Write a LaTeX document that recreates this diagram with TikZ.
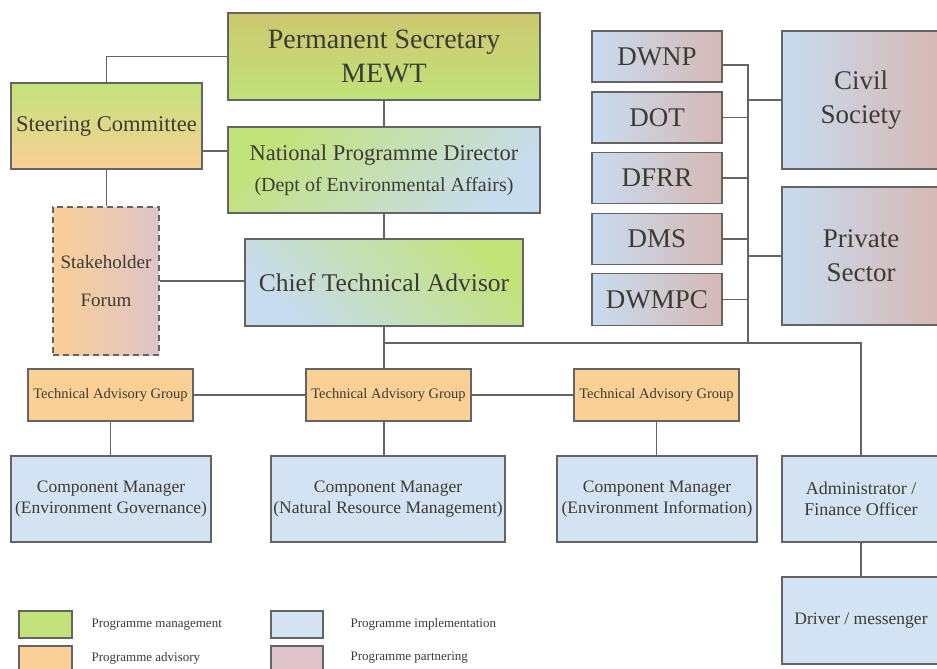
\documentclass[tikz,border=0pt]{standalone}
\usepackage{fontspec}
\setmainfont{Liberation Serif}
\usepackage{xcolor}
\definecolor{hline}{RGB}{100,100,100}
\definecolor{htext}{RGB}{60,60,50}
\definecolor{hgreen}{RGB}{194,226,122}
\definecolor{holive}{RGB}{204,200,112}
\definecolor{horange}{RGB}{250,208,150}
\definecolor{hblue}{RGB}{212,227,243}
\definecolor{hblue0}{RGB}{200,220,240}
\definecolor{hpink}{RGB}{214,184,180}
\definecolor{hpink0}{RGB}{222,196,200}
\usetikzlibrary{calc}
\tikzset{
  box/.style={draw=hline, line width=1.3pt, text=htext, align=center, inner sep=0pt},
  link/.style={draw=hline, line width=1.6pt},
  partner/.style={box, left color=hblue0, right color=hpink},
  impl/.style={box, fill=hblue},
  advis/.style={box, fill=horange},
}

\begin{document}
\begin{tikzpicture}[x=1pt,y=-1pt]
\clip (0,0) rectangle (937,669);
\fill[white] (0,0) rectangle (937,669);
\node[box, top color=holive, bottom color=hgreen, minimum width=312pt, minimum height=87pt,
  font=\fontsize{28}{34}\selectfont] (ps) at (384,56.5) {Permanent Secretary\\MEWT};
\node[box, top color=hgreen, bottom color=hblue0, shading angle=45, minimum width=312pt, minimum height=86pt,
  font=\fontsize{22.5}{31}\selectfont] (npd) at (384,170)
  {National Programme Director\\{\fontsize{20}{31}\selectfont (Dept of Environmental Affairs)}};
\node[box, top color=hgreen, bottom color=horange, minimum width=191pt, minimum height=86pt,
  font=\fontsize{22.5}{27}\selectfont] (sc) at (106.5,126) {Steering Committee};
\node[box, dashed, dash pattern=on 6pt off 4pt, left color=horange, right color=hpink0,
  minimum width=106pt, minimum height=148pt, font=\fontsize{19}{38}\selectfont] (sf) at (106,281) {Stakeholder\\Forum};
\node[box, top color=hgreen, bottom color=hblue0, shading angle=-45, minimum width=278pt, minimum height=87pt,
  font=\fontsize{25.5}{30}\selectfont] (cta) at (384,282.5) {Chief Technical Advisor};

\node[partner, minimum width=130pt, minimum height=51pt, font=\fontsize{27}{32}\selectfont] (dwnp) at (657,56.5) {DWNP};
\node[partner, minimum width=130pt, minimum height=51pt, font=\fontsize{27}{32}\selectfont] (dot) at (657,117.5) {DOT};
\node[partner, minimum width=130pt, minimum height=51pt, font=\fontsize{27}{32}\selectfont] (dfrr) at (657,178) {DFRR};
\node[partner, minimum width=130pt, minimum height=51pt, font=\fontsize{27}{32}\selectfont] (dms) at (657,239) {DMS};
\node[partner, minimum width=130pt, minimum height=52pt, font=\fontsize{27}{32}\selectfont] (dwmpc) at (657,299.5) {DWMPC};
\node[partner, minimum width=158pt, minimum height=138pt, font=\fontsize{27}{34}\selectfont] (cs) at (861,100) {Civil\\Society};
\node[partner, minimum width=158pt, minimum height=138pt, font=\fontsize{27}{34}\selectfont] (pvt) at (861,256) {Private\\Sector};

\node[advis, minimum width=165pt, minimum height=52pt, font=\fontsize{14.5}{17}\selectfont] (tag1) at (110.5,395) {Technical Advisory Group};
\node[advis, minimum width=165pt, minimum height=52pt, font=\fontsize{14.5}{17}\selectfont] (tag2) at (388.5,395) {Technical Advisory Group};
\node[advis, minimum width=165pt, minimum height=52pt, font=\fontsize{14.5}{17}\selectfont] (tag3) at (656.5,395) {Technical Advisory Group};

\node[impl, minimum width=200pt, minimum height=86pt, font=\fontsize{17.5}{21}\selectfont] (cm1) at (111,499) {Component Manager\\(Environment Governance)};
\node[impl, minimum width=234pt, minimum height=86pt, font=\fontsize{17.5}{21}\selectfont] (cm2) at (388,499) {Component Manager\\(Natural Resource Management)};
\node[impl, minimum width=200pt, minimum height=86pt, font=\fontsize{17.5}{21}\selectfont] (cm3) at (657,499) {Component Manager\\(Environment Information)};
\node[impl, minimum width=158pt, minimum height=86pt, font=\fontsize{18}{21}\selectfont] (adm) at (861,499) {Administrator /\\Finance Officer};
\node[impl, minimum width=158pt, minimum height=87pt, font=\fontsize{17.5}{21}\selectfont] (drv) at (861,620.5) {Driver / messenger};

\coordinate (hub) at (384,343);
\coordinate (pbus) at (748,343);

\draw[link] (sc.north) |- (ps.west);
\draw[link] (ps.south) -- (npd.north);
\draw[link] ([yshift=-25pt]sc.east) -- ([yshift=-25pt]sc.east -| npd.west);
\draw[link] (sc.south) -- (sc.south |- sf.north);
\draw[link] (sf.east) -- (sf.east -| cta.west);
\draw[link] (npd.south) -- (cta.north);
\draw[link] (cta.south) -- (hub);
\draw[link] (hub) -- (hub |- tag2.north);
\draw[link] (hub) -| (adm.north);
\draw[link] (pbus) |- ([yshift=-8.5pt]dwnp.east);
\draw[link] (dot.east) -- (dot.east -| pbus);
\draw[link] (dfrr.east) -- (dfrr.east -| pbus);
\draw[link] (dms.east) -- (dms.east -| pbus);
\draw[link] (dwmpc.east) -- (dwmpc.east -| pbus);
\draw[link] (pbus |- cs.west) -- (cs.west);
\draw[link] (pbus |- pvt.west) -- (pvt.west);
\draw[link] (tag1.east) -- (tag2.west);
\draw[link] (tag2.east) -- (tag3.west);
\draw[link] (tag1.south) -- (tag1.south |- cm1.north);
\draw[link] (hub |- tag2.south) -- (hub |- cm2.north);
\draw[link] (tag3.south) -- (tag3.south |- cm3.north);
\draw[link] (adm.south) -- (drv.north);

% legend
\node[box, fill=hgreen, minimum width=53pt, minimum height=27pt] (lg1) at (45.5,624.5) {};
\node[box, fill=horange, minimum width=53pt, minimum height=27pt] (lg2) at (45.5,659.5) {};
\node[box, fill=hblue, minimum width=52pt, minimum height=27pt] (lg3) at (297,624.5) {};
\node[box, fill=hpink0, minimum width=52pt, minimum height=27pt] (lg4) at (297,659.5) {};
\node[anchor=west, text=htext, font=\fontsize{13}{15}\selectfont] (lt1) at (88,624.5) {Programme management};
\node[anchor=west, text=htext, font=\fontsize{13}{15}\selectfont] (lt2) at (88,658) {Programme advisory};
\node[anchor=west, text=htext, font=\fontsize{13}{15}\selectfont] (lt3) at (347,624.5) {Programme implementation};
\node[anchor=west, text=htext, font=\fontsize{13}{15}\selectfont] (lt4) at (347,658) {Programme partnering};
\end{tikzpicture}
\end{document}
